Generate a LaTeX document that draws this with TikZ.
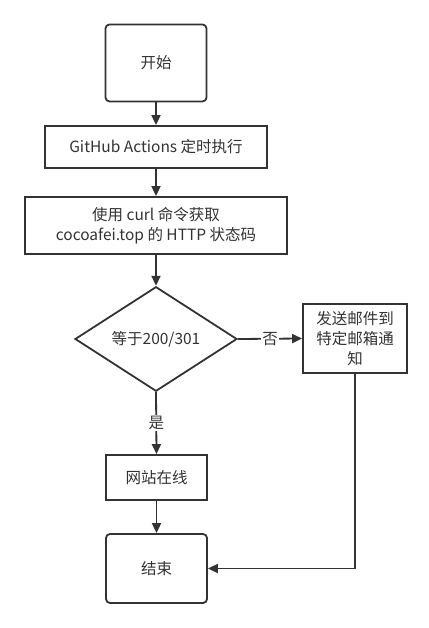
\documentclass[tikz,border=0pt]{standalone}
\usepackage{fontspec}
\setmainfont{Noto Sans CJK SC}
\usetikzlibrary{shapes.geometric}
\usetikzlibrary{arrows.meta}
\definecolor{linegray}{HTML}{333333}
\tikzset{
    box/.style={draw=linegray, line width=1.8pt, text=linegray, inner sep=0pt, align=center,
        font=\fontsize{15.5pt}{20pt}\selectfont},
    roundbox/.style={box, rounded corners=4pt},
    decision/.style={box, diamond, inner sep=0pt},
    flow/.style={draw=linegray, line width=1.8pt, -{Triangle[length=10pt,width=9pt]}},
    tag/.style={fill=white, text=linegray, inner sep=1.5pt, font=\fontsize{15.5pt}{20pt}\selectfont}
}
\begin{document}
\begin{tikzpicture}[x=1pt,y=-1pt]
            \useasboundingbox (0,0) rectangle (428,628);

            % steps
            \node[roundbox, minimum width=101pt, minimum height=77pt] (start) at (156,63) {开始};
            \node[box, minimum width=222pt, minimum height=42pt] (cron) at (156,147) {GitHub Actions 定时执行};
            \node[box, minimum width=262pt, minimum height=57pt] (curl) at (156,225.5) {使用 curl 命令获取\\cocoafei.top 的 HTTP 状态码};
            \node[decision, minimum width=162pt, minimum height=94pt] (check) at (156,339) {等于200/301};
            \node[box, minimum width=104pt, minimum height=69pt] (mail) at (355,338.5) {发送邮件到\\特定邮箱通\\知};
            \node[box, minimum width=101pt, minimum height=45pt] (online) at (156.5,477.5) {网站在线};
            \node[roundbox, minimum width=101pt, minimum height=69pt] (finish) at (156.5,568.5) {结束};

            % arrows
            \draw[flow] (start) -- (cron);
            \draw[flow] (cron) -- (curl);
            \draw[flow] (curl) -- (check);
            \draw[flow] (check.east) -- node[tag]{否} (mail.west);
            \draw[flow] (check.south) -- node[tag]{是} (online.north);
            \draw[flow] (online) -- (finish);
            \draw[flow] (mail.south) |- (finish.east);
        \end{tikzpicture}
\end{document}
